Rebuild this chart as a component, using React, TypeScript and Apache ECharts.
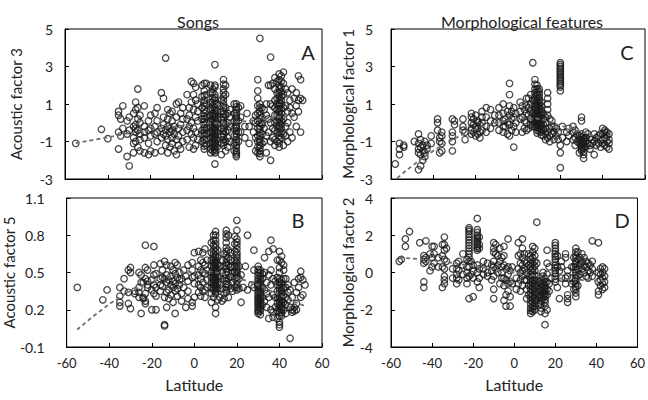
import React, { useEffect, useRef } from "react";
import * as echarts from "echarts";

type Group = [number, number[]];

// Panel A: Songs, acoustic factor 3 (latitude -> values)
const songsA: Group[] = [
  [-55, [-1.1]], [-43, [-0.35]], [-40, [-0.85]],
  [-35, [0.6, 0.4, -1.4, -0.5]], [-34, [0.2, -0.7]], [-33, [-0.3, 0.9]],
  [-31, [-1.8, 0.1, -0.6]], [-30, [-2.3, -0.4, 0.3]],
  [-28, [0.5, -0.2, -0.8, -1.6, -1.1]], [-27, [1.1, 0.7, -0.3, -0.5, -1.0, -0.1]],
  [-26, [1.8, -0.4, 0.2, -1.3, 0.8]], [-25, [-0.6, 0.0, -0.9, -1.5, 0.4]],
  [-23, [-0.2, -1.6, -0.5, 0.9, -0.8]], [-21, [-0.4, -1.7, 0.1, -1.1]],
  [-20, [0.4, -0.3, -0.7, -1.5]], [-18, [-0.2, -0.6, 0.5, -1.6]],
  [-17, [0.8, -0.5, -1.0, 0.1]], [-15, [-0.3, -0.8, 1.6, -1.5]],
  [-14, [1.3, -0.1, -0.6, 0.3]], [-13, [3.45, -0.4, -1.2, -0.7]],
  [-12, [0.7, -0.9, -0.2, -1.6, 0.2]], [-11, [-0.5, -1.3, 0.5, -0.3]],
  [-10, [0.1, -0.8, -1.1, -0.4, 0.6]], [-9, [-0.6, -1.5, -0.2]],
  [-8, [1.0, -0.9, 0.3, -1.7]], [-7, [1.1, -0.3, -1.2, -0.7]],
  [-6, [-0.1, -1.4, 0.5]], [-5, [0.2, -0.5, -1.0, 0.8]],
  [-3, [0.2, -0.4, -0.9, 1.5]], [-2, [-0.2, -1.3, 0.4, 0.8]],
  [-1, [1.1, -0.6, 0.0, 2.2]], [0, [2.1, 1.5, 0.7, -0.3, -1.4, -0.8]],
  [1, [1.9, 1.2, 0.3, -0.5, -1.2]], [2, [1.0, 0.1, -0.9, 0.6]],
  [4, [2.0, 1.4, 0.8, 0.2, -0.4, -1.0, -0.6]],
  [5, [2.1, 1.7, 1.2, 0.9, 0.5, 0.2, -0.1, -0.4, -0.7, -1.1, -1.4]],
  [5, [1.45, 1.05, 0.7, 0.35, 0.05, -0.25, -0.55, -0.9, -1.25]],
  [6, [2.1, 1.5, 1.0, 0.6, 0.3, 0.0, -0.3, -0.6, -0.9, -1.2]],
  [8, [2.0, 1.6, 1.1, 0.7, 0.4, 0.1, -0.2, -0.5, -0.8, -1.1, -1.4, -1.6]],
  [9, [1.8, 1.3, 0.9, 0.5, 0.2, -0.1, -0.4, -0.7, -1.0, -1.3, -1.5]],
  [9, [1.6, 1.1, 0.7, 0.35, 0.05, -0.25, -0.55, -0.85, -1.15]],
  [10, [3.1, 2.0, 1.5, 1.2, 0.8, 0.5, 0.3, 0.0, -0.2, -0.4, -0.6, -0.8, -1.0, -1.2, -1.4, -1.6, -2.2]],
  [10, [1.9, 1.35, 1.0, 0.65, 0.4, 0.15, -0.1, -0.3, -0.5, -0.7, -0.9, -1.1, -1.3, -1.5]],
  [11, [1.0, 0.6, 0.2, -0.1, -0.5, -0.9, -1.3]],
  [13, [0.6, 0.2, -0.3, -0.7, -1.1, 1.2, -1.7]],
  [14, [2.3, 1.8, 1.4, 1.0, 0.6, 0.3, 0.0, -0.3, -0.6, -0.9, -1.2]],
  [14, [2.05, 1.6, 1.2, 0.8, 0.45, 0.15, -0.15, -0.45, -0.75, -1.05]],
  [15, [2.0, 1.5, 0.8, 0.4, -0.1, -0.5, -1.0, -1.5]],
  [16, [0.5, 0.0, -0.4, -0.8, -1.3]], [17, [0.7, -0.2, -1.0, 0.3]],
  [19, [1.0, 0.5, 0.1, -0.3, -0.7, -1.1, -1.5]],
  [20, [1.0, 0.7, 0.4, 0.2, -0.1, -0.3, -0.6, -0.9, -1.2, -1.5, -1.7, -1.8]],
  [20, [0.85, 0.55, 0.3, 0.05, -0.2, -0.45, -0.75, -1.05, -1.35, -1.6]],
  [21, [0.8, 0.1, -0.5, -1.0]], [22, [0.3, -0.5, 0.9]], [24, [-0.2, -0.8]],
  [25, [0.5]], [26, [-0.2, -1.1]], [28, [-0.5, 0.1]],
  [29, [0.0, -0.8, -1.5, 0.4]],
  [30, [2.3, 1.7, 1.3, 0.9, 0.5, 0.1, -0.3, -0.7, -1.0, -1.3, -1.6]],
  [31, [4.5, 1.0, 0.6, 0.2, -0.2, -0.5, -0.9, -1.2, -1.5, -1.8]],
  [31, [0.8, 0.4, 0.0, -0.35, -0.7, -1.05, -1.35, -1.65]],
  [32, [0.8, 0.3, -0.1, -0.6, -1.1, 0.0]], [33, [0.7, -0.3, -1.0]],
  [34, [1.0, 0.4, -1.6, -0.7]], [35, [0.2, -0.5, 2.0]],
  [36, [3.5, 2.0, 1.0, 0.0, -1.0, -2.0]], [37, [0.9, -0.3, -0.8, 2.1]],
  [38, [2.4, 1.8, 1.2, 0.8, 0.4, 0.0, -0.4, -0.9, -1.2]],
  [39, [2.2, 1.6, 1.3, 1.0, 0.7, 0.4, 0.1, -0.2, -0.5, -1.0]],
  [40, [2.6, 2.0, 1.6, 1.2, 0.9, 0.6, 0.3, 0.0, -0.3, -0.7, -1.1, -1.3]],
  [40, [2.3, 1.8, 1.4, 1.05, 0.75, 0.45, 0.15, -0.15, -0.5, -0.9]],
  [41, [2.5, 1.9, 1.4, 1.0, 0.5, 0.1, -0.3, -0.8]],
  [41, [2.2, 1.65, 1.2, 0.75, 0.3, -0.1, -0.55]],
  [42, [2.7, 2.1, 1.5, 0.8, 0.2, -0.6, -1.2]], [43, [1.8, 0.9, -0.2, -0.7]],
  [44, [1.6, 0.6, 0.0, -1.0]], [45, [0.8, -0.5, 1.2]], [46, [1.8, 0.5, -0.8]],
  [47, [1.3, 0.3]], [48, [0.9, 1.6, -0.2]], [49, [2.5, 1.2, 0.6]],
  [50, [2.3, 1.3, -0.5]], [51, [1.2]],
];

// Panel B: Songs, acoustic factor 5
const songsB: Group[] = [
  [-55, [0.38]], [-43, [0.28]], [-41, [0.36]],
  [-35, [0.38, 0.31, 0.26, 0.23]], [-33, [0.45, 0.35]], [-31, [0.52, 0.25, 0.34]],
  [-30, [0.54, 0.21, 0.5]], [-28, [0.35, 0.33]], [-26, [0.5, 0.38, 0.34, 0.3]],
  [-25, [0.48, 0.42, 0.17]], [-24, [0.42, 0.29, 0.3]],
  [-23, [0.72, 0.54, 0.45, 0.27, 0.33, 0.25]], [-22, [0.52, 0.43, 0.38, 0.4]],
  [-20, [0.2, 0.44, 0.36]], [-19, [0.71, 0.56, 0.48, 0.4, 0.33]],
  [-18, [0.49, 0.38, 0.31, 0.2]], [-16, [0.57, 0.45, 0.4, 0.35]],
  [-15, [0.52, 0.46, 0.39]], [-14, [0.59, 0.45, 0.3, 0.08, 0.07]],
  [-13, [0.56, 0.48, 0.42, 0.22, 0.34]], [-12, [0.44, 0.36, 0.29]],
  [-11, [0.55, 0.47, 0.4, 0.32]], [-10, [0.52, 0.43, 0.38, 0.26]],
  [-9, [0.58, 0.49, 0.41, 0.35, 0.17]], [-8, [0.56, 0.46, 0.37, 0.31]],
  [-7, [0.5, 0.44, 0.4]], [-6, [0.45, 0.33, 0.27]], [-5, [0.52, 0.38]],
  [-4, [0.47, 0.22]], [-3, [0.56, 0.43, 0.35, 0.29]],
  [-1, [0.58, 0.52, 0.46, 0.26, 0.23]], [0, [0.66, 0.47, 0.41, 0.3]],
  [2, [0.67, 0.55, 0.48, 0.4, 0.34]], [3, [0.6, 0.52, 0.45, 0.38, 0.31]],
  [4, [0.66, 0.58, 0.5, 0.42, 0.35]], [5, [0.69, 0.56, 0.49, 0.36, 0.3]],
  [6, [0.6, 0.52, 0.44, 0.38]],
  [8, [0.74, 0.66, 0.6, 0.55, 0.5, 0.46, 0.42, 0.38, 0.33, 0.26]],
  [9, [0.8, 0.72, 0.65, 0.6, 0.56, 0.52, 0.48, 0.44, 0.4, 0.36, 0.3]],
  [9, [0.76, 0.68, 0.62, 0.58, 0.54, 0.5, 0.46, 0.42, 0.38]],
  [10, [0.83, 0.76, 0.7, 0.64, 0.6, 0.57, 0.54, 0.51, 0.48, 0.45, 0.42, 0.39, 0.36, 0.33, 0.22, 0.17]],
  [10, [0.8, 0.73, 0.67, 0.62, 0.585, 0.555, 0.525, 0.495, 0.465, 0.435, 0.405, 0.375, 0.345]],
  [11, [0.68, 0.62, 0.57, 0.52, 0.47, 0.42, 0.37, 0.28]],
  [12, [0.55, 0.47, 0.3, 0.4]], [13, [0.6, 0.5, 0.37, 0.27]],
  [14, [0.65, 0.55, 0.45, 0.33, 0.29]],
  [15, [0.84, 0.78, 0.7, 0.64, 0.58, 0.53, 0.48, 0.43, 0.38, 0.34]],
  [15, [0.81, 0.74, 0.67, 0.61, 0.555, 0.505, 0.455, 0.405, 0.36]],
  [16, [0.8, 0.68, 0.62, 0.56, 0.5, 0.45, 0.4, 0.3]],
  [17, [0.66, 0.6, 0.54, 0.47, 0.37, 0.55]], [18, [0.5, 0.42, 0.35]],
  [19, [0.79, 0.73, 0.67, 0.6, 0.55, 0.5, 0.45, 0.38]],
  [20, [0.92, 0.77, 0.72, 0.66, 0.62, 0.58, 0.54, 0.5, 0.46, 0.4, 0.36]],
  [20, [0.84, 0.745, 0.69, 0.64, 0.6, 0.56, 0.52, 0.48, 0.43, 0.38]],
  [21, [0.55, 0.45, 0.37]], [22, [0.26, 0.48]], [23, [0.38]], [24, [0.55]],
  [25, [0.8, 0.36]], [27, [0.4]], [28, [0.68, 0.52, 0.38]],
  [30, [0.55, 0.5, 0.45, 0.41, 0.38, 0.34, 0.3, 0.27, 0.24, 0.2, 0.17]],
  [30, [0.525, 0.475, 0.43, 0.395, 0.36, 0.32, 0.285, 0.255, 0.22, 0.185]],
  [31, [0.52, 0.47, 0.42, 0.37, 0.33, 0.29, 0.25, 0.21, 0.16]],
  [31, [0.495, 0.445, 0.395, 0.35, 0.31, 0.27, 0.23, 0.19]],
  [32, [0.45, 0.38, 0.3, 0.24, 0.49]], [33, [0.5, 0.36, 0.27, 0.62]],
  [34, [0.42, 0.33, 0.22]], [35, [0.48, 0.3, 0.13, 0.67]],
  [36, [0.76, 0.52, 0.4, 0.2]], [37, [0.69, 0.45, 0.32, 0.14, 0.18]],
  [38, [0.43, 0.3, 0.22]],
  [39, [0.6, 0.46, 0.4, 0.35, 0.3, 0.25, 0.19, 0.13]],
  [40, [0.67, 0.54, 0.45, 0.4, 0.35, 0.31, 0.27, 0.23, 0.18, 0.1, 0.06]],
  [40, [0.6, 0.5, 0.425, 0.375, 0.33, 0.29, 0.25, 0.21, 0.15, 0.08]],
  [41, [0.63, 0.44, 0.38, 0.33, 0.28, 0.24, 0.2, 0.15]],
  [41, [0.58, 0.41, 0.355, 0.305, 0.26, 0.22, 0.175]],
  [42, [0.56, 0.45, 0.38, 0.32, 0.26, 0.2, 0.52]],
  [43, [0.45, 0.38, 0.3, 0.24, 0.17]], [44, [0.4, 0.34, 0.28]],
  [45, [-0.03, 0.36, 0.22]], [46, [0.2, 0.18, 0.3]], [47, [0.22, 0.19, 0.42]],
  [48, [0.25, 0.2, 0.34]], [49, [0.38, 0.45]], [50, [0.51, 0.46, 0.3]],
  [51, [0.44, 0.32]], [52, [0.4]],
];

// Panel C: Morphological factor 1
const morphC: Group[] = [
  [-58, [-2.2]], [-56, [-1.4, -1.1, -1.7]], [-54, [-1.3, -1.2]], [-49, [-1.0]],
  [-47, [-0.6, -1.1, -1.6, -1.4, -2.5]], [-46, [-1.3, -0.9, -1.7, -2.3]],
  [-45, [-1.5, -1.2, -2.0]], [-44, [-1.6, -1.0, -1.8]], [-43, [-1.4, -1.2]],
  [-41, [-1.1, -0.7]], [-38, [0.2, -0.4, 0.0]], [-37, [-0.8, -1.0, -1.6]],
  [-36, [-0.5, -1.1, -0.7, -1.5]], [-31, [0.2, -0.5, -1.0, -0.7, -1.5]],
  [-30, [0.1, -0.1]], [-26, [0.2, -0.2, -0.4]], [-25, [-0.5, -0.9]],
  [-22, [0.5, 0.0, -0.3, -0.6, -0.4, 0.3]], [-21, [0.2, -0.1, -0.5]],
  [-20, [0.4, -0.2, -0.7]], [-19, [0.1, -0.3, -0.6, 0.0]],
  [-18, [-0.1, -0.5, -0.8]], [-17, [0.6, 0.3, 0.0, -0.4]],
  [-15, [0.8, 0.3, -0.2, -0.5]], [-13, [0.7, 0.1, -0.3]], [-11, [0.4, 0.0]],
  [-9, [0.8, 0.4, 0.0, -0.4]], [-7, [1.0, 0.5, 0.1, -0.2, -0.5]],
  [-6, [0.2, -0.2]], [-5, [0.6, 0.0, -0.6]], [-4, [2.1, 1.5, 0.9, 0.4, -0.1, -0.7]],
  [-3, [0.6, 0.2, -0.4]], [-2, [0.8, 0.3, -0.2, -1.3]], [-1, [0.5, 0.0, -0.5]],
  [1, [1.1, 0.6, 0.2]], [2, [0.9, 0.3, -0.5]], [3, [0.7, 0.1, -0.3]],
  [4, [1.3, 0.9, 0.5, 0.0, -0.4]], [5, [1.3, 0.8, 0.4, -0.3]],
  [6, [1.5, 1.0, 0.6, 0.2, -0.1]], [7, [3.2, 1.2, 0.5, -0.2, 0.1]],
  [8, [2.3, 1.8, 1.4, 1.0, 0.7, 0.4, 0.1, -0.2]],
  [8, [2.05, 1.6, 1.2, 0.85, 0.55, 0.25, -0.05]],
  [9, [2.0, 1.6, 1.3, 1.0, 0.8, 0.5, 0.3, 0.1, -0.1, -0.4]],
  [9, [1.8, 1.45, 1.15, 0.9, 0.65, 0.4, 0.2, 0.0, -0.25, -0.55]],
  [10, [1.8, 1.5, 1.2, 0.9, 0.6, 0.3, 0.0, -0.3]],
  [10, [1.65, 1.35, 1.05, 0.75, 0.45, 0.15, -0.15, -0.45]],
  [11, [1.1, 0.7, 0.4, 0.1, -0.2, -0.5]], [11, [0.9, 0.55, 0.25, -0.05, -0.35, -0.65]],
  [12, [0.5, 0.2, -0.1, -0.4, -0.7]],
  [13, [0.3, 0.0, -0.3, -0.6, -0.9]], [14, [1.6, 1.3, 1.0, 0.7, 0.4, -0.5, -0.8]],
  [15, [0.2, -0.3, -0.7, -1.0]], [16, [0.1, -0.2, -0.6]], [17, [-0.2, -0.5, -0.9]],
  [18, [-0.3, -0.7]], [19, [-0.5, -0.9]],
  [20, [3.2, 3.0, 2.8, 2.6, 2.4, 2.2, 2.0, 1.7, -1.2, -1.6, -2.4]],
  [20, [3.1, 2.9, 2.7, 2.5, 2.3, 2.1, 1.9]],
  [21, [-0.2, -0.8]], [23, [-0.5, -1.0]], [24, [-0.3, -0.7]],
  [26, [-0.2, -0.5, -0.9]], [27, [-0.4, -0.8, -1.2]], [28, [-0.6, -1.0]],
  [29, [-0.7, -0.9, -1.1, -1.6]], [30, [0.3, 0.1, -0.6, -0.9, -1.1, -1.3, -1.5]],
  [30, [-0.75, -1.0, -1.2, -1.4]],
  [31, [-0.7, -1.0, -1.2, -1.7, -1.9]], [31, [-0.85, -1.1, -1.35, -1.55]],
  [32, [-0.5, -0.8, -1.0, -1.3]],
  [33, [-0.6, -1.1]], [34, [-0.8, -1.2, -1.4]], [35, [-0.9, -1.1]],
  [36, [-0.6, -1.0, -1.7]], [37, [-0.8, -1.2]], [38, [-1.1, -0.7]],
  [39, [-0.6, -0.9, -1.3]], [40, [-0.3, -0.6, -0.9, -1.1]],
  [41, [-0.4, -0.8, -1.2, -0.5]], [42, [-0.5, -0.7, -1.0, -1.3]],
  [43, [-0.6, -0.9, -1.1, -1.4]],
];

// Panel D: Morphological factor 2
const morphD: Group[] = [
  [-56, [0.6]], [-55, [0.7]], [-53, [1.4, 1.8]], [-51, [2.2]], [-46, [1.6]],
  [-44, [0.9, 0.7, 0.5, -0.5, -0.8]], [-43, [1.7, 0.8, 0.6]], [-41, [1.0, 0.1]],
  [-40, [1.4, 0.3, 0.8]], [-39, [1.4, 1.0, 0.5]], [-37, [0.8, 0.3]],
  [-35, [1.5, 0.9, 0.3, -0.8]], [-34, [1.9, 1.5, 1.2, 0.7, 0.2, -0.2, -0.4, -0.6]],
  [-33, [1.3, 0.6]], [-30, [0.2, -0.3]], [-28, [0.5, 0.2, -0.1, -0.3, -0.6]],
  [-27, [0.6, 0.1, -0.4]], [-25, [1.0, 0.4, -0.1]], [-23, [0.7, 0.3, 0.0, -0.3, -0.6]],
  [-22, [2.4, 2.2, 1.9, 1.6, 1.3, 1.0, 0.6, 0.3, -0.2, -1.4]],
  [-22, [2.3, 2.05, 1.75, 1.45, 1.15, 0.8]], [-21, [0.6, -0.1]],
  [-20, [0.4, 0.1, -0.3, -1.3]],
  [-18, [2.9, 2.3, 2.0, 1.8, 1.6, 1.4, 1.2, 0.4, 0.0, -0.5]],
  [-18, [2.15, 1.9, 1.7, 1.5, 1.3]],
  [-17, [1.9, 1.5, 1.3, 0.2, -0.3, -0.8]], [-15, [0.6, 0.2, -0.1]],
  [-13, [0.5, 0.0, -0.2]], [-11, [0.4, 0.1, -0.4]],
  [-10, [1.6, 1.3, 1.1, 0.6, 0.3, -0.2, -0.9, -1.4]], [-9, [1.5, 1.0, 0.2]],
  [-8, [0.9, 0.4, 0.0]], [-7, [1.3, 0.6, -0.6]], [-6, [0.8, 0.3, 0.0, -0.3]],
  [-5, [1.4, 0.9, 0.4, -0.3, -0.7, -1.5]], [-4, [0.2, -0.4, -1.2, -1.8]],
  [-3, [1.8, 0.3, -0.1, -0.6, -1.0]], [-2, [0.1, -0.5, -1.3, -1.8]],
  [-1, [0.3, -0.6]], [1, [-0.3, -0.9]], [2, [1.6, 0.9, 0.2, -0.6]],
  [3, [1.0, 0.5, 0.0, -0.4, -1.0]], [4, [1.8, 1.3, 0.8, 0.4, 0.1, -0.2, -0.7]],
  [5, [1.0, 0.6, 0.2, -0.4]], [6, [0.5, 0.0, -0.4, -0.9, -1.4]],
  [7, [1.0, 0.4, -0.2, -0.7, -1.2]],
  [8, [0.9, 0.5, 0.1, -0.3, -0.7, -1.1, -1.5, -1.9, -2.2]],
  [8, [0.7, 0.3, -0.1, -0.5, -0.9, -1.3, -1.7, -2.05]],
  [9, [1.4, 0.8, 0.2, -0.2, -0.6, -1.0, -1.4, -1.8, -2.1]],
  [9, [1.1, 0.5, 0.0, -0.4, -0.8, -1.2, -1.6, -1.95]],
  [10, [1.3, 0.6, 0.1, -0.4, -0.8, -1.2, -1.6, -2.0]],
  [10, [0.9, 0.35, -0.15, -0.6, -1.0, -1.4, -1.8]],
  [11, [2.7, 0.5, -0.2, -0.7, -1.1, -1.5]], [12, [-0.5, -0.9, -1.3, -1.7]],
  [13, [-0.4, -0.8, -1.2, -1.5, -1.9]], [13, [-0.6, -1.0, -1.35, -1.7, -2.1]],
  [14, [0.0, -0.4, -0.8, -1.1, -1.4]], [14, [-0.2, -0.6, -0.95, -1.25]],
  [15, [-0.3, -0.7, -1.0, -1.3, -1.6, -2.2, -2.8]], [15, [-0.5, -0.85, -1.15, -1.45, -1.8]],
  [16, [1.2, 0.5, -0.1, -0.5, -0.9, -1.2, -2.0]], [17, [0.3, -0.6, -1.0]],
  [18, [-0.3]], [20, [1.6, 1.3, 1.0, 0.7, 0.4, 0.1, -0.2, -0.5]],
  [20, [1.45, 1.15, 0.85, 0.55, 0.25, -0.05, -0.35]],
  [21, [0.9, 0.3, -0.8]], [22, [-1.4, 0.1]], [23, [0.6, 0.3, -0.3]],
  [25, [1.0, 0.8, -0.3, -0.6]], [26, [-0.2, -1.4, -1.6, -1.2, 0.1]],
  [28, [0.3, -0.3, -0.6]], [29, [0.8, 0.3, -0.5, -0.9]],
  [30, [1.3, 0.9, 0.6, 0.3, 0.0, -0.3, -0.6, -0.9, -1.3]],
  [30, [1.1, 0.75, 0.45, 0.15, -0.15, -0.45, -0.75, -1.1]],
  [31, [1.1, 0.7, 0.2, -0.2, -0.7]], [32, [0.8, 0.4, -0.1]], [33, [1.0, 0.6, 0.2]],
  [34, [0.8, 0.4, 0.0]], [35, [0.6, 0.3, -0.2]], [36, [0.5, 0.1, -0.3]],
  [37, [0.4, 0.0]], [38, [1.7, 0.6, 0.2, -0.2]], [41, [1.6, 0.0, -0.5, -1.0, -1.2]],
  [42, [0.2, -0.1, -0.4, -0.7]], [43, [0.3, 0.0, -0.3, -0.6, -0.9]],
  [44, [0.2, -0.2, -0.5, -0.8]],
];

// Fitted trend curves
const fitA = [[-55, -1.08], [-40, -0.78], [-30, -0.55], [-20, -0.38], [-10, -0.22], [0, -0.1], [10, -0.02], [20, 0.05], [30, 0.15], [40, 0.3], [50, 0.45]];
const fitB = [[-55, 0.04], [-45, 0.18], [-35, 0.3], [-25, 0.39], [-15, 0.45], [-5, 0.5], [5, 0.51], [15, 0.48], [25, 0.43], [35, 0.36], [45, 0.28], [52, 0.23]];
const fitC = [[-57, -2.95], [-50, -2.3], [-40, -1.5], [-30, -0.85], [-20, -0.35], [-10, 0.0], [0, 0.2], [5, 0.25], [10, 0.2], [20, -0.15], [30, -0.5], [43, -0.95]];
const fitD = [[-56, 0.8], [-40, 0.65], [-20, 0.35], [0, 0.0], [20, -0.3], [44, -0.45]];

const ticksA = [-3, -1, 1, 3, 5];
const ticksB = [-0.1, 0.2, 0.5, 0.8, 1.1];
const ticksC = [-3, -1, 1, 3, 5];
const ticksD = [-4, -2, 0, 2, 4];
const xTicks = { min: -60, max: 60, interval: 20 };

const FONT = "Lato";
const TXT = "#222";

const flatten = (g: Group[]) => g.flatMap(([lat, vs]) => vs.map((v) => [lat, v]));

export default function App() {
  const ref = useRef<HTMLDivElement>(null);
  useEffect(() => {
    if (!ref.current) return;
    const chart = echarts.init(ref.current, undefined, { renderer: "svg" });
    const grids = [
      { left: 65, top: 29, width: 257, height: 150 },
      { left: 65, top: 198, width: 257, height: 149 },
      { left: 391, top: 29, width: 254, height: 150 },
      { left: 391, top: 198, width: 254, height: 149 },
    ].map((g) => ({ ...g, show: true, borderColor: "#000", borderWidth: 1, backgroundColor: "transparent" }));

    const panels = [
      { data: songsA, fit: fitA, ticks: ticksA, name: "Acoustic factor 3", bottom: false, margin: 12, gap: 42 },
      { data: songsB, fit: fitB, ticks: ticksB, name: "Acoustic factor 5", bottom: true, margin: 22, gap: 42 },
      { data: morphC, fit: fitC, ticks: ticksC, name: "Morphological factor 1", bottom: false, margin: 18, gap: 32 },
      { data: morphD, fit: fitD, ticks: ticksD, name: "Morphological factor 2", bottom: true, margin: 18, gap: 32 },
    ];

    const xAxis = panels.map((p, i) => ({
      gridIndex: i,
      type: "value",
      ...xTicks,
      axisLine: { show: true, onZero: false, lineStyle: { color: "#000", width: 1 } },
      axisTick: { show: true, inside: true, length: 4, lineStyle: { color: "#000" } },
      axisLabel: { show: p.bottom, fontSize: 13, color: TXT, margin: 9, fontFamily: FONT },
      splitLine: { show: false },
      name: p.bottom ? "Latitude" : "",
      nameLocation: "middle",
      nameGap: 29,
      nameTextStyle: { fontSize: 16, color: TXT, fontFamily: FONT },
    }));

    const yAxis = panels.map((p, i) => ({
      gridIndex: i,
      type: "value",
      min: p.ticks[0],
      max: p.ticks[p.ticks.length - 1],
      axisLine: { show: true, onZero: false, lineStyle: { color: "#000", width: 1 } },
      axisTick: { show: true, inside: true, length: 4, customValues: p.ticks, lineStyle: { color: "#000" } },
      axisLabel: { show: true, customValues: p.ticks, fontSize: 14, color: TXT, margin: p.margin, fontFamily: FONT },
      splitLine: { show: false },
      name: p.name,
      nameLocation: "middle",
      nameGap: p.gap,
      nameTextStyle: { fontSize: 15, color: TXT, fontFamily: FONT },
    }));

    const series: any[] = [];
    panels.forEach((p, i) => {
      series.push({
        type: "scatter",
        xAxisIndex: i,
        yAxisIndex: i,
        data: flatten(p.data),
        symbol: "circle",
        symbolSize: 6.5,
        itemStyle: { color: "rgba(0,0,0,0)", borderColor: "#1a1a1a", borderWidth: 1.3 },
        z: 2,
      });
      series.push({
        type: "line",
        xAxisIndex: i,
        yAxisIndex: i,
        data: p.fit,
        smooth: true,
        showSymbol: false,
        symbol: "none",
        lineStyle: { color: "#707070", width: 1.8, type: [4, 3] },
        z: 5,
      });
    });

    const letter = (t: string, x: number, y: number) => ({
      type: "text",
      x,
      y,
      style: { text: t, fontSize: 20, fontFamily: FONT, fill: TXT, align: "center", verticalAlign: "middle" },
    });

    chart.setOption({
      animation: false,
      backgroundColor: "#fff",
      grid: grids,
      xAxis,
      yAxis,
      series,
      title: [
        { text: "Songs", left: 193, top: 8, textAlign: "center", textStyle: { fontSize: 16, fontWeight: "normal", color: TXT, fontFamily: FONT } },
        { text: "Morphological features", left: 517, top: 8, textAlign: "center", textStyle: { fontSize: 16, fontWeight: "normal", color: TXT, fontFamily: FONT } },
      ],
      graphic: [letter("A", 308, 52), letter("B", 298, 220), letter("C", 627, 52), letter("D", 622, 220)],
    } as any);
    return () => chart.dispose();
  }, []);
  return <div ref={ref} style={{ position: "absolute", left: 0, top: 0, width: 648, height: 400 }} />;
}
